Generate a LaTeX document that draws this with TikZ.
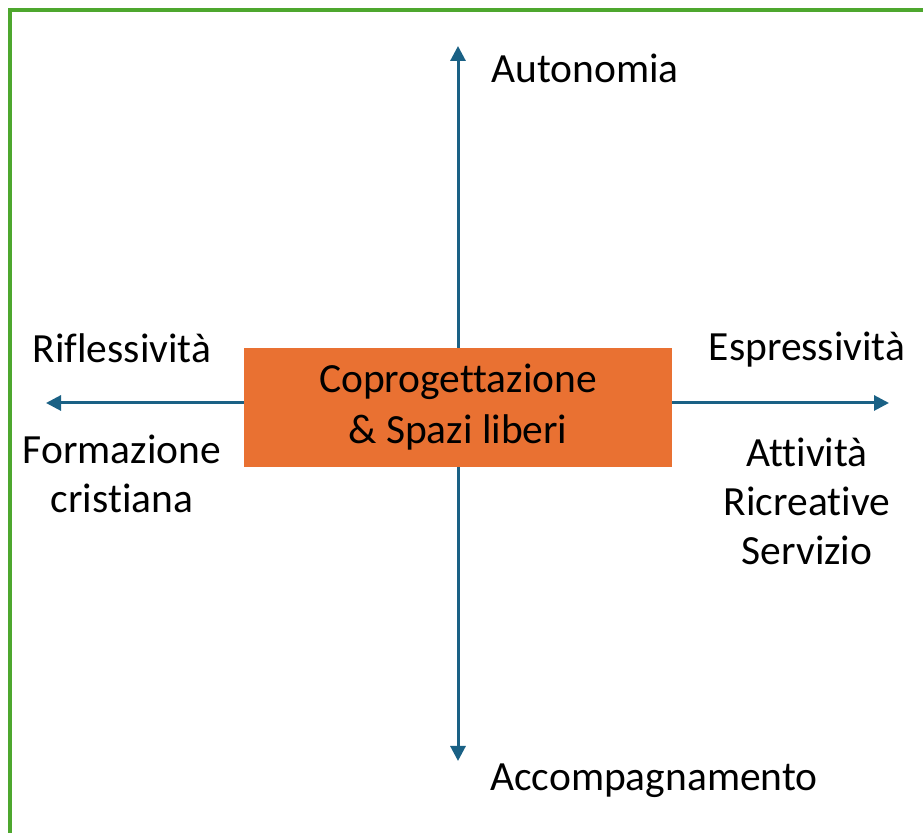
\documentclass[tikz,border=0pt]{standalone}
\usepackage{fontspec}
\setmainfont[Ligatures=NoCommon]{Carlito}
\usetikzlibrary{arrows.meta}
\definecolor{axisblue}{HTML}{1A6185}
\definecolor{boxorange}{HTML}{E97132}
\definecolor{framegreen}{HTML}{4EA72E}
\tikzset{
	axis/.style={axisblue, line width=1.5pt, -{Triangle[width=7.5pt,length=7.5pt]}},
	label/.style={align=center, font=\fontsize{20.75}{24.5}\selectfont},
}

\begin{document}
\begin{tikzpicture}[x=0.5pt, y=-0.5pt]
	\useasboundingbox (0,0) rectangle (923,833);
	% frame
	\draw[framegreen, line width=2pt] (9.5,833) -- (9.5,10) -- (923,10);
	
	\coordinate (c) at (458,403);
	\coordinate (top) at (458,46);
	\coordinate (bottom) at (458,761);
	\coordinate (left) at (46,403);
	\coordinate (right) at (889,403);
	
	% axes
	\draw[axis](c) -- (top);
	\draw[axis](c) -- (bottom);
	\draw[axis](c) -- (left);
	\draw[axis](c) -- (right);
	
	\node[fill=boxorange, minimum width=214pt, minimum height=59.5pt, inner sep=0pt, label, font=\fontsize{20.75}{25.5}\selectfont] (box) at (458,407.5) {\raisebox{-1.5pt}{Coprogettazione}\\\raisebox{-1.5pt}{\& Spazi liberi}};
	
	\node[label] (autonomia) at (585,68) {Autonomia};
	\node[label] (accomp) at (654,781) {Accompagnamento};
	\node[label] (rifl) at (122,348) {Riflessività};
	\node[label] (formaz) at (122,474) {Formazione\\cristiana};
	\node[label] (espr) at (807,350) {Espressività};
	\node[label] (attiv) at (807,501) {Attività\\Ricreative\\Servizio};
\end{tikzpicture}
\end{document}
